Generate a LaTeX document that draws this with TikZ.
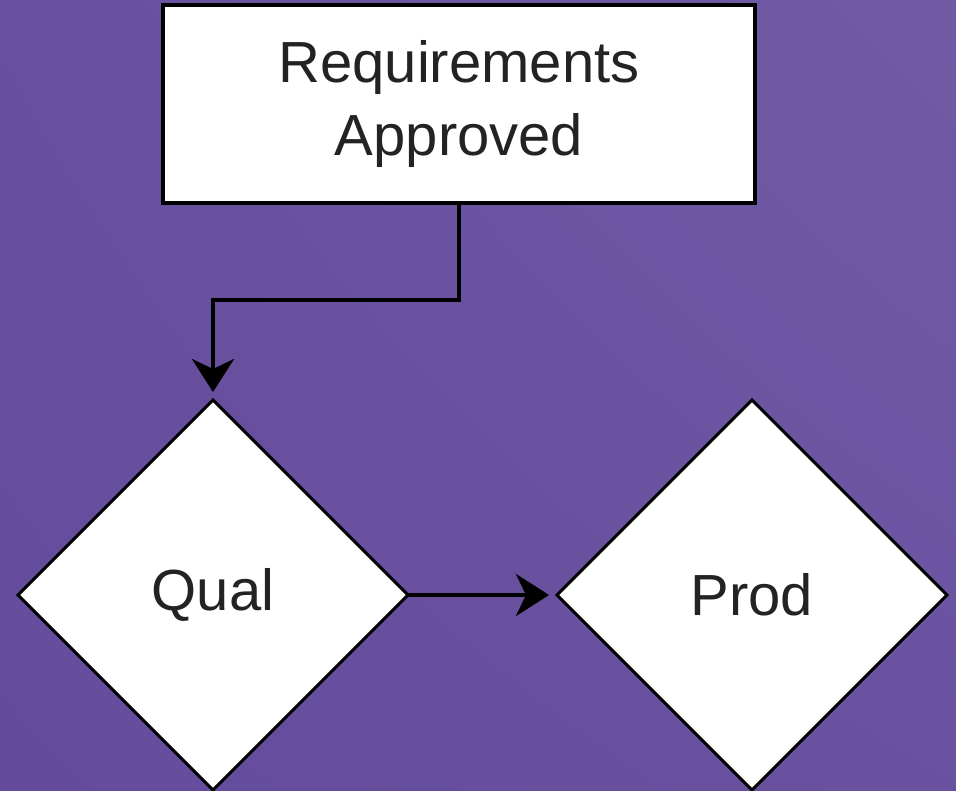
\documentclass[tikz,border=0pt]{standalone}
\usepackage{fontspec}
\setmainfont{Liberation Sans}
\usepackage{tikz}
\usetikzlibrary{shapes.geometric, arrows.meta, positioning, shadings}
\definecolor{flowpurple}{RGB}{100, 75, 156}
\definecolor{flowpurplelight}{RGB}{113, 91, 165}
\definecolor{flowtext}{RGB}{35, 35, 35}
\tikzset{
    milestone/.style={rectangle, draw=black, fill=white, line width=4pt, outer sep=0pt, inner sep=0pt, minimum width=592pt, minimum height=198pt, align=center, text=flowtext, font=\fontsize{58}{73}\selectfont},
    gate/.style={diamond, aspect=1, draw=black, fill=white, line width=3pt, outer sep=0pt, inner sep=0pt, minimum width=390pt, minimum height=390pt, text=flowtext, font=\fontsize{58}{70}\selectfont},
    flow/.style={line width=4pt, -{Stealth[length=33pt, width=42pt, inset=10pt]}, shorten >=8pt}
}

\begin{document}
\begin{tikzpicture}[x=1pt, y=-1pt, node distance=149pt]
    % backdrop
    \shade[lower left=flowpurple, lower right=flowpurple!60!flowpurplelight, upper left=flowpurple!70!flowpurplelight, upper right=flowpurplelight] (0,0) rectangle (956,790);
    \useasboundingbox (0,0) rectangle (956,790);

    \node (req) [milestone] at (459,104) {Requirements\\Approved};
    \node (qual) [gate] at (213,595) {Qual};
    \node (prod) [gate, right=of qual] {Prod};

    \draw [flow] (req.south) -- ++(0,97) -| (qual.north);
    \draw [flow] (qual.east) -- (prod.west);
\end{tikzpicture}
\end{document}
